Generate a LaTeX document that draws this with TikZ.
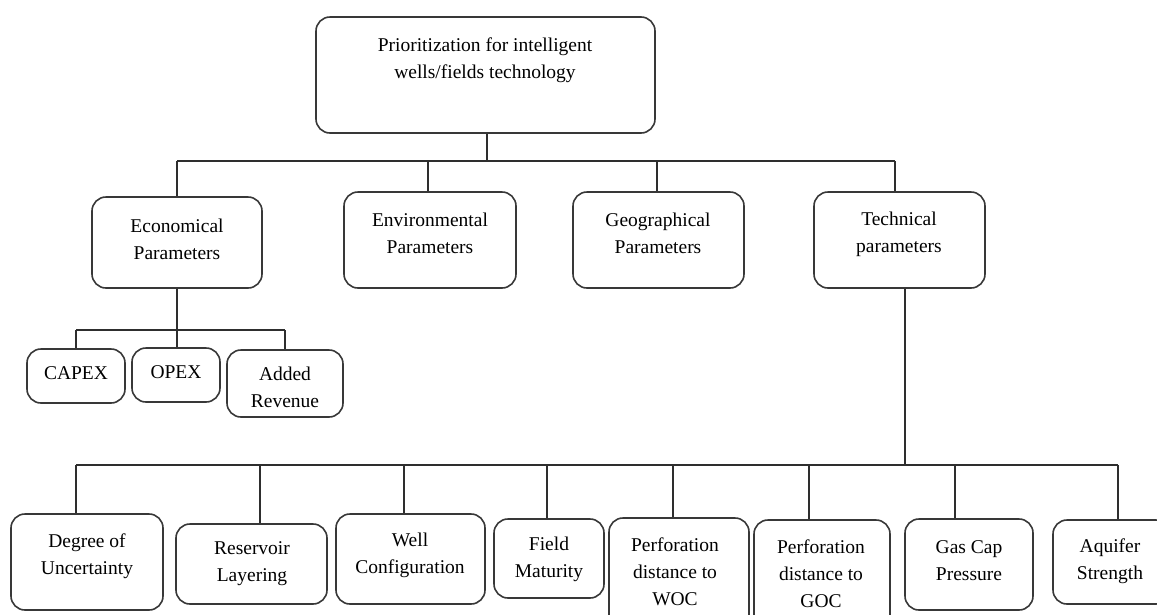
\documentclass[tikz,border=0pt]{standalone}
\usepackage{fontspec}
\setmainfont{Liberation Serif}
\usetikzlibrary{fit}
\begin{document}
\begin{tikzpicture}[x=1pt,y=-1pt,
  box/.style={draw=black!78, line width=1.6pt, rounded corners=14pt, inner sep=0pt},
  lbl/.style={align=center, font=\fontsize{19.5}{27}\selectfont, inner sep=0pt, text=black},
  conn/.style={draw=black!82, line width=1.4pt}]
\useasboundingbox (0,0) rectangle (1157,614);
% boxes
\node[box, fit={(316,17) (655,133)}] (top) {};
\node[box, fit={(92,197) (262,288)}] (econ) {};
\node[box, fit={(344,192) (516,288)}] (env) {};
\node[box, fit={(573,192) (744,288)}] (geo) {};
\node[box, fit={(814,192) (985,288)}] (tech) {};
\node[box, fit={(27,349) (125,403)}] (capex) {};
\node[box, fit={(132,348) (220,402)}] (opex) {};
\node[box, fit={(227,350) (343,417)}] (added) {};
\node[box, fit={(11,514) (163,610)}] (degree) {};
\node[box, fit={(176,524) (327,604)}] (reservoir) {};
\node[box, fit={(336,514) (485,604)}] (well) {};
\node[box, fit={(494,519) (604,598)}] (field) {};
\node[box, fit={(609,518) (749,630)}] (woc) {};
\node[box, fit={(754,520) (890,630)}] (goc) {};
\node[box, fit={(905,519) (1033,610)}] (gas) {};
\node[box, fit={(1053,520) (1170,604)}] (aquifer) {};
% labels
\node[lbl] (topT) at (485,60) {Prioritization for intelligent\\wells/fields technology};
\node[lbl] (econT) at (177,239) {Economical\\Parameters};
\node[lbl] (envT) at (430,233) {Environmental\\Parameters};
\node[lbl] (geoT) at (658,233) {Geographical\\Parameters};
\node[lbl] (techT) at (899,234) {Technical\\parameters};
\node[lbl] (capexT) at (76,373) {CAPEX};
\node[lbl] (opexT) at (176,372) {OPEX};
\node[lbl] (addedT) at (285,387) {Added\\Revenue};
\node[lbl] (degreeT) at (87,556) {Degree of\\Uncertainty};
\node[lbl] (reservoirT) at (252,564) {Reservoir\\Layering};
\node[lbl] (wellT) at (410,555) {Well\\Configuration};
\node[lbl] (fieldT) at (549,559) {Field\\Maturity};
\node[lbl] (wocT) at (675,572) {Perforation\\distance to\\WOC};
\node[lbl] (gocT) at (821,574) {Perforation\\distance to\\GOC};
\node[lbl] (gasT) at (969,561) {Gas Cap\\Pressure};
\node[lbl] (aquiferT) at (1110,561) {Aquifer\\Strength};
% first level bus
\coordinate (b0) at (487,161);
\coordinate (b1) at (177,161);
\coordinate (b2) at (428,161);
\coordinate (b3) at (657,161);
\coordinate (b4) at (895,161);
\draw[conn] (b0 |- top.south) -- (b0);
\draw[conn] (b1) -- (b4);
\draw[conn] (b1) -- (b1 |- econ.north);
\draw[conn] (b2) -- (b2 |- env.north);
\draw[conn] (b3) -- (b3 |- geo.north);
\draw[conn] (b4) -- (b4 |- tech.north);
% economical bus
\coordinate (e0) at (177,330);
\coordinate (e1) at (76,330);
\coordinate (e2) at (285,330);
\draw[conn] (e0 |- econ.south) -- (e0 |- opex.north);
\draw[conn] (e1) -- (e2);
\draw[conn] (e1) -- (e1 |- capex.north);
\draw[conn] (e2) -- (e2 |- added.north);
% technical bus
\coordinate (t0) at (905,465);
\coordinate (t1) at (76,465);
\coordinate (t2) at (260,465);
\coordinate (t3) at (404,465);
\coordinate (t4) at (547,465);
\coordinate (t5) at (673,465);
\coordinate (t6) at (809,465);
\coordinate (t7) at (955,465);
\coordinate (t8) at (1118,465);
\draw[conn] (t0 |- tech.south) -- (t0);
\draw[conn] (t1) -- (t8);
\draw[conn] (t1) -- (t1 |- degree.north);
\draw[conn] (t2) -- (t2 |- reservoir.north);
\draw[conn] (t3) -- (t3 |- well.north);
\draw[conn] (t4) -- (t4 |- field.north);
\draw[conn] (t5) -- (t5 |- woc.north);
\draw[conn] (t6) -- (t6 |- goc.north);
\draw[conn] (t7) -- (t7 |- gas.north);
\draw[conn] (t8) -- (t8 |- aquifer.north);
\end{tikzpicture}
\end{document}
